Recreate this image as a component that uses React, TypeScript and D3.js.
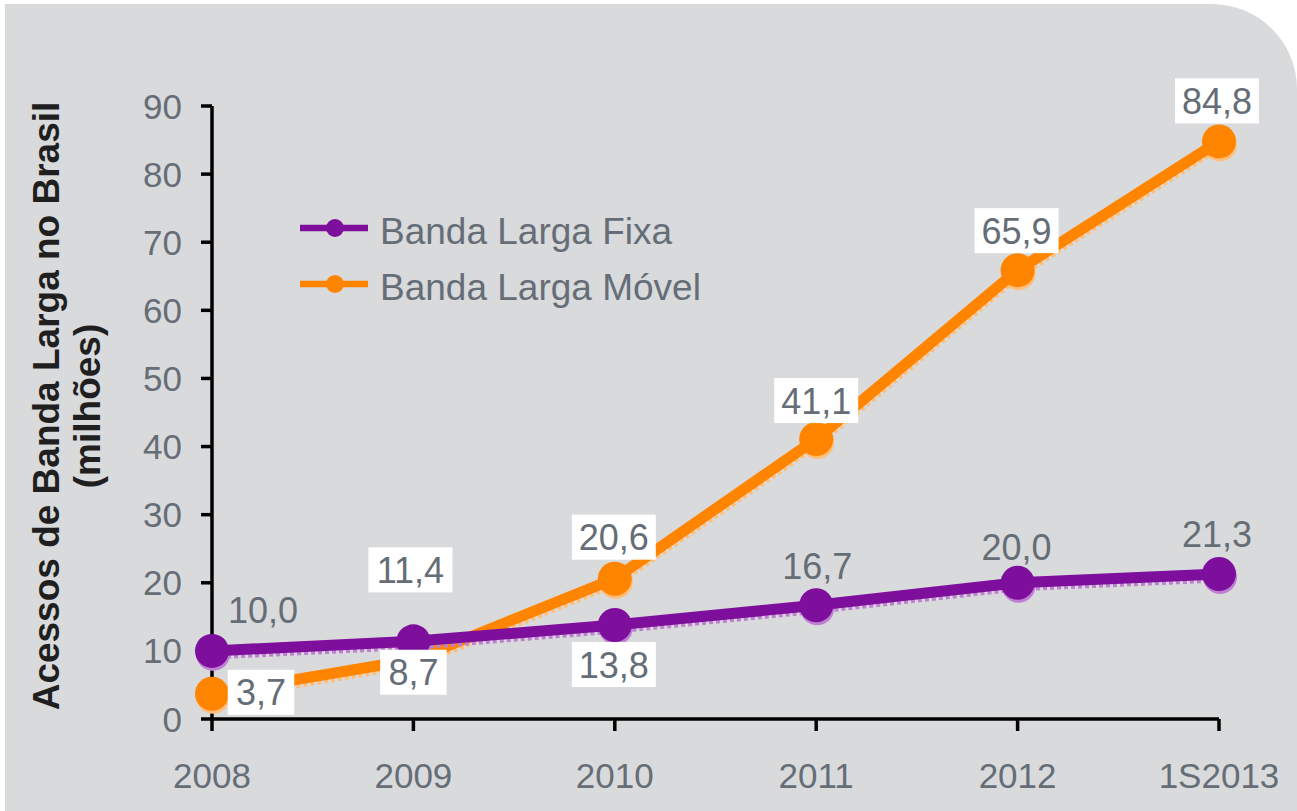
import React from "react";
import * as d3 from "d3";

const categories = ["2008", "2009", "2010", "2011", "2012", "1S2013"];
const fixaValues = [10.0, 11.4, 13.8, 16.7, 20.0, 21.3];
const movelValues = [3.7, 8.7, 20.6, 41.1, 65.9, 84.8];
const yTicks = [0, 10, 20, 30, 40, 50, 60, 70, 80, 90];
const seriesNames = ["Banda Larga Fixa", "Banda Larga Móvel"];

// label placement relative to each point: [dx, dy, boxed]
const fixaLabelPos: [number, number, boolean][] = [
  [51, -41, false], [-3, -72, true], [-1, 39, true], [1, -40, false], [-1, -36, false], [-2, -40, false],
];
const movelLabelPos: [number, number, boolean][] = [
  [49, -2, true], [0, 12, true], [-1, -42, true], [0, -39, true], [-1, -40, true], [-2, -41, true],
];

const W = 1297;
const H = 811;
const FONT = "'Liberation Sans', Arial, sans-serif";
const TEXT = "#656d76";
const PURPLE = "#7d0f9c";
const ORANGE = "#ff8400";

export default function App() {
  const x = d3.scalePoint<string>().domain(categories).range([212, 1219]);
  const y = d3.scaleLinear().domain([0, 90]).range([719, 106]);

  const line = d3
    .line<number>()
    .x((_, i) => x(categories[i]) as number)
    .y((d) => y(d));

  const series = [
    { name: seriesNames[1], values: movelValues, color: ORANGE, shadow: "#ffbf7a", pos: movelLabelPos },
    { name: seriesNames[0], values: fixaValues, color: PURPLE, shadow: "#bf80d2", pos: fixaLabelPos },
  ];

  const fmt = (v: number) => v.toFixed(1).replace(".", ",");

  const r = 85;
  const panel = `M5,4 H${W - r} A${r},${r} 0 0 1 ${W},${4 + r} V${H} H5 Z`;

  return (
    <svg width={W} height={H} style={{ position: "absolute", left: 0, top: 0 }} fontFamily={FONT}>
      <rect width={W} height={H} fill="#fff" />
      <path d={panel} fill="#d9dadc" />

      {/* y axis title */}
      <g transform="translate(59,406) rotate(-90)" fill="#1f1f1f" fontWeight="bold" fontSize={37} textAnchor="middle">
        <text x={0} y={0}>Acessos de Banda Larga no Brasil</text>
        <text x={0} y={41}>(milhões)</text>
      </g>

      {/* axes */}
      <g stroke="#000" strokeWidth={3.5} fill="none">
        <line x1={212} x2={212} y1={y(90)} y2={y(0)} />
        <line x1={212} x2={1219} y1={y(0)} y2={y(0)} />
        {yTicks.map((t) => (
          <line key={t} x1={201} x2={212} y1={y(t)} y2={y(t)} />
        ))}
        {categories.map((c) => (
          <line key={c} x1={x(c)} x2={x(c)} y1={y(0)} y2={y(0) + 12} />
        ))}
      </g>
      <g fill={TEXT} fontSize={35}>
        {yTicks.map((t) => (
          <text key={t} x={182} y={y(t)} textAnchor="end" dominantBaseline="central">{t}</text>
        ))}
        {categories.map((c) => (
          <text key={c} x={x(c)} y={788} textAnchor="middle">{c}</text>
        ))}
      </g>

      {/* series */}
      {series.map((s) => (
        <g key={s.name}>
          <path d={line(s.values) || ""} transform="translate(1,3)" fill="none" stroke={s.shadow} strokeWidth={11} strokeDasharray="4 3" />
          {s.values.map((v, i) => (
            <circle key={i} cx={(x(categories[i]) as number) + 1} cy={y(v) + 3} r={17} fill={s.shadow} />
          ))}
          <path d={line(s.values) || ""} fill="none" stroke={s.color} strokeWidth={11} />
          {s.values.map((v, i) => (
            <circle key={i} cx={x(categories[i])} cy={y(v)} r={17} fill={s.color} />
          ))}
        </g>
      ))}

      {/* data labels */}
      {series.map((s) =>
        s.values.map((v, i) => {
          const [dx, dy, boxed] = s.pos[i];
          const cx = (x(categories[i]) as number) + dx;
          const cy = y(v) + dy;
          const label = fmt(v);
          const w = label.length * 17.5 + 14;
          return (
            <g key={s.name + i}>
              {boxed && <rect x={cx - w / 2} y={cy - 22} width={w} height={45} fill="#fff" />}
              <text x={cx} y={cy + 1} textAnchor="middle" dominantBaseline="central" fontSize={36} fill={TEXT}>
                {label}
              </text>
            </g>
          );
        })
      )}

      {/* legend */}
      {[
        { name: seriesNames[0], color: PURPLE, yy: 228 },
        { name: seriesNames[1], color: ORANGE, yy: 284 },
      ].map((l) => (
        <g key={l.name}>
          <line x1={300} x2={368} y1={l.yy} y2={l.yy} stroke={l.color} strokeWidth={6.5} />
          <circle cx={335} cy={l.yy} r={9} fill={l.color} />
          <text x={380} y={l.yy + 3} dominantBaseline="central" fontSize={37} fill={TEXT}>{l.name}</text>
        </g>
      ))}
    </svg>
  );
}
